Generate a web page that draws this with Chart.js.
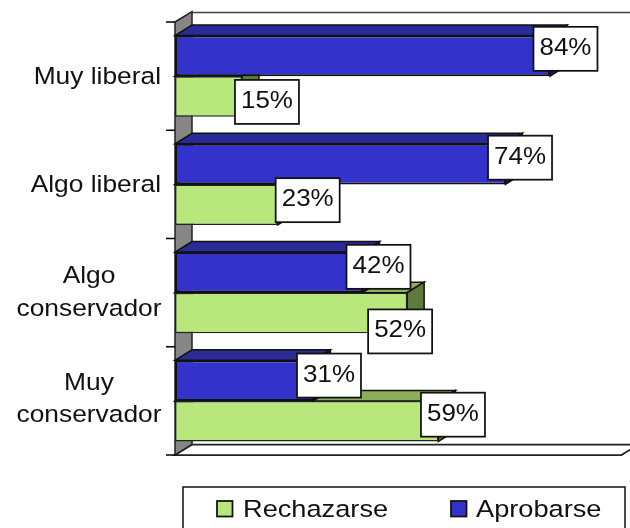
<!DOCTYPE html>
<html><head><meta charset="utf-8">
<style>html,body{margin:0;padding:0;background:#fff;overflow:hidden}canvas{display:block}</style>
<script src="https://cdn.jsdelivr.net/npm/chart.js@4/dist/chart.umd.min.js"></script>
</head><body>
<div style="width:630px;height:528px"><canvas id="c" width="630" height="528"></canvas></div>
<script>
const categories = [["Muy liberal"], ["Algo liberal"], ["Algo", "conservador"], ["Muy", "conservador"]];
const aprobarse = [84, 74, 42, 31];
const rechazarse = [15, 23, 52, 59];
const seriesNames = ["Aprobarse", "Rechazarse"];

// styling and hand-placed label offsets (relative to each bar's end and middle)
const DX = 17, DY = -10.5, FONT = '24.5px "Liberation Sans", Arial, sans-serif';
const faces = [
  {front:'#3333CC', top:'#2A2A99', side:'#1A1A66'},
  {front:'#B8E87C', top:'#8AAE5C', side:'#5F7A3D'}
];
const labelOffsets = [
  [[15.5,-7],[14.7,-6.4],[16,-5.5],[15.6,-5]],
  [[25,5.5],[30,-4.5],[-7,18.5],[14.6,-6.5]]
];
const tickShift = [0.5, 0.5, 0, -1.5];

function poly(ctx, pts, fill, stroke, lw){
  ctx.beginPath();
  pts.forEach((p,i)=> i?ctx.lineTo(p[0],p[1]):ctx.moveTo(p[0],p[1]));
  ctx.closePath();
  if(fill){ctx.fillStyle=fill;ctx.fill();}
  if(stroke){ctx.strokeStyle=stroke;ctx.lineWidth=lw||1.5;ctx.stroke();}
}
function line(ctx,x1,y1,x2,y2,c,w){
  ctx.beginPath();ctx.moveTo(x1,y1);ctx.lineTo(x2,y2);ctx.strokeStyle=c||'#000';ctx.lineWidth=w||1.5;ctx.stroke();
}
// the reference's text is slightly stretched sideways
function wideText(ctx,text,x,y,sx){
  ctx.save();ctx.translate(x,y);ctx.scale(sx,1);ctx.fillText(text,0,0);ctx.restore();
}

const scene3d = {
  id:'scene3d',
  beforeDatasetsDraw(chart){
    const {ctx,chartArea:a,scales:{y}}=chart;
    ctx.save();
    poly(ctx,[[a.left,a.bottom],[a.left+DX,a.bottom+DY],[a.right+DX,a.bottom+DY],[a.right,a.bottom]],'#fff','#222',1.75);
    line(ctx,a.left+DX,a.top+DY+1,a.right+DX,a.top+DY+1,'#444',1.5);
    poly(ctx,[[a.left,a.top],[a.left+DX,a.top+DY],[a.left+DX,a.bottom+DY],[a.left,a.bottom]],'#868686','#222',1.5);
    for(let i=0;i<=categories.length;i++){
      const yy=a.top+(a.bottom-a.top)*i/categories.length;
      line(ctx,a.left-9,yy,a.left,yy,'#000',1.5);
    }
    ctx.fillStyle='#111';ctx.font=FONT;ctx.textBaseline='alphabetic';
    categories.forEach((lines,i)=>{
      const cy=y.getPixelForTick(i)+tickShift[i];
      if(lines.length===1){
        ctx.textAlign='right';wideText(ctx,lines[0],161,cy+7,1.075);
      }else{
        ctx.textAlign='center';
        lines.forEach((t,k)=>wideText(ctx,t,89,cy-9.5+k*32.5,1.075));
      }
    });
    ctx.restore();
  },
  beforeDatasetDraw(chart,args){
    const {ctx}=chart, f=faces[args.index];
    ctx.save();
    chart.getDatasetMeta(args.index).data.forEach(b=>{
      const p=b.getProps(['x','y','base','height'],true);
      const t=p.y-p.height/2, bt=p.y+p.height/2, l=p.base, r=p.x;
      poly(ctx,[[l,t],[l+DX,t+DY],[r+DX,t+DY],[r,t]],f.top,'#111',1.5);
      poly(ctx,[[r,t],[r+DX,t+DY],[r+DX,bt+DY],[r,bt]],f.side,'#111',1.5);
    });
    ctx.restore();
  },
  afterDatasetsDraw(chart){
    const {ctx}=chart;
    ctx.save();
    ctx.font=FONT;ctx.textAlign='center';ctx.textBaseline='alphabetic';
    [0,1].forEach(ds=>{
      chart.getDatasetMeta(ds).data.forEach((b,i)=>{
        const p=b.getProps(['x','y'],true), o=labelOffsets[ds][i];
        const cx=p.x+o[0], cy=p.y+o[1];
        ctx.fillStyle='#fff';ctx.strokeStyle='#111';ctx.lineWidth=1.75;
        ctx.fillRect(cx-32,cy-22,64,44);ctx.strokeRect(cx-32,cy-22,64,44);
        ctx.fillStyle='#111';
        wideText(ctx,chart.data.datasets[ds].data[i]+'%',cx,cy+6,1.06);
      });
    });
    ctx.strokeStyle='#111';ctx.lineWidth=1.5;ctx.strokeRect(183,487,442,50);
    const items=[[1,217,243],[0,451,476]];
    items.forEach(([ds,sx,tx])=>{
      ctx.fillStyle=faces[ds].front;
      ctx.fillRect(sx,501,15.5,15.5);ctx.strokeStyle='#111';ctx.lineWidth=1.75;ctx.strokeRect(sx,501,15.5,15.5);
      ctx.fillStyle='#111';ctx.textAlign='left';
      wideText(ctx,chart.data.datasets[ds].label,tx,517,1.11);
    });
    ctx.restore();
  }
};

new Chart(document.getElementById('c'),{
  type:'bar',
  plugins:[scene3d],
  data:{
    labels:categories,
    datasets:[
      {label:seriesNames[0],data:aprobarse,backgroundColor:faces[0].front,borderColor:'#111',borderWidth:2,borderSkipped:false,categoryPercentage:0.75,barPercentage:1},
      {label:seriesNames[1],data:rechazarse,backgroundColor:faces[1].front,borderColor:'#222',borderWidth:1.5,borderSkipped:false,categoryPercentage:0.75,barPercentage:1}
    ]
  },
  options:{
    indexAxis:'y',
    responsive:false,
    animation:false,
    layout:{padding:{left:175,top:22,right:8.6,bottom:73}},
    plugins:{legend:{display:false},tooltip:{enabled:false},title:{display:false}},
    scales:{
      x:{display:false,min:0,max:100},
      y:{display:false,grid:{display:false}}
    }
  }
});
</script>
</body></html>
